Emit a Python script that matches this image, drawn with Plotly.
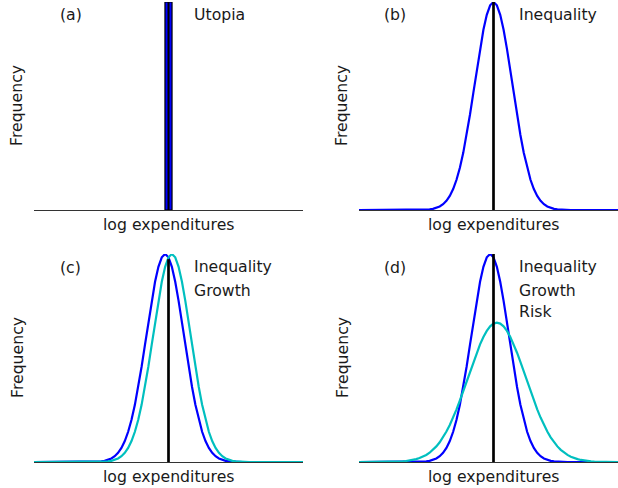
import plotly.graph_objects as go

# ---------------- data ----------------
x_grid = [
    -4.0, -3.9, -3.8, -3.7, -3.6, -3.5, -3.4, -3.3, -3.2, -3.1,
    -3.0, -2.9, -2.8, -2.7, -2.6, -2.5, -2.4, -2.3, -2.2, -2.1,
    -2.0, -1.9, -1.8, -1.7, -1.6, -1.5, -1.4, -1.3, -1.2, -1.1,
    -1.0, -0.9, -0.8, -0.7, -0.6, -0.5, -0.4, -0.3, -0.2, -0.1,
    0.0, 0.1, 0.2, 0.3, 0.4, 0.5, 0.6, 0.7, 0.8, 0.9,
    1.0, 1.1, 1.2, 1.3, 1.4, 1.5, 1.6, 1.7, 1.8, 1.9,
    2.0, 2.1, 2.2, 2.3, 2.4, 2.5, 2.6, 2.7, 2.8, 2.9,
    3.0, 3.1, 3.2, 3.3, 3.4, 3.5, 3.6, 3.7, 3.8, 3.9,
    4.0,
]

# (b) Inequality: blue distribution centred on the mean
blue_b = [
    0, 0, 0, 0, 0, 0, 0, 0, 0, 0,
    0, 0, 0, 0, 0, 0, 0, 0, 0.0004, 0.0009,
    0.0017, 0.0032, 0.0057, 0.0100, 0.0169, 0.0277, 0.0439, 0.0676, 0.1007, 0.1453,
    0.2031, 0.2749, 0.3604, 0.4578, 0.5633, 0.6713, 0.7748, 0.8663, 0.9382, 0.9842,
    1.0, 0.9842, 0.9382, 0.8663, 0.7748, 0.6713, 0.5633, 0.4578, 0.3604, 0.2749,
    0.2031, 0.1453, 0.1007, 0.0676, 0.0439, 0.0277, 0.0169, 0.0100, 0.0057, 0.0032,
    0.0017, 0.0009, 0.0004, 0, 0, 0, 0, 0, 0, 0,
    0, 0, 0, 0, 0, 0, 0, 0, 0, 0,
    0,
]

# (c),(d) blue distribution, slightly left of the mean
blue_cd = [
    0, 0, 0, 0, 0, 0, 0, 0, 0, 0,
    0, 0, 0, 0, 0, 0, 0, 0.0004, 0.0009, 0.0017,
    0.0032, 0.0057, 0.0100, 0.0169, 0.0277, 0.0439, 0.0676, 0.1007, 0.1453, 0.2031,
    0.2749, 0.3604, 0.4578, 0.5633, 0.6713, 0.7748, 0.8663, 0.9382, 0.9842, 1.0,
    0.9842, 0.9382, 0.8663, 0.7748, 0.6713, 0.5633, 0.4578, 0.3604, 0.2749, 0.2031,
    0.1453, 0.1007, 0.0676, 0.0439, 0.0277, 0.0169, 0.0100, 0.0057, 0.0032, 0.0017,
    0.0009, 0.0004, 0, 0, 0, 0, 0, 0, 0, 0,
    0, 0, 0, 0, 0, 0, 0, 0, 0, 0,
    0,
]

# (c) Growth: cyan distribution, slightly right of the mean
cyan_c = [
    0, 0, 0, 0, 0, 0, 0, 0, 0, 0,
    0, 0, 0, 0, 0, 0, 0, 0, 0, 0.0004,
    0.0009, 0.0017, 0.0032, 0.0057, 0.0100, 0.0169, 0.0277, 0.0439, 0.0676, 0.1007,
    0.1453, 0.2031, 0.2749, 0.3604, 0.4578, 0.5633, 0.6713, 0.7748, 0.8663, 0.9382,
    0.9842, 1.0, 0.9842, 0.9382, 0.8663, 0.7748, 0.6713, 0.5633, 0.4578, 0.3604,
    0.2749, 0.2031, 0.1453, 0.1007, 0.0676, 0.0439, 0.0277, 0.0169, 0.0100, 0.0057,
    0.0032, 0.0017, 0.0009, 0.0004, 0, 0, 0, 0, 0, 0,
    0, 0, 0, 0, 0, 0, 0, 0, 0, 0,
    0,
]

# (d) Risk: wider, lower cyan distribution
cyan_d = [
    0, 0, 0, 0, 0, 0, 0.0002, 0.0003, 0.0004, 0.0007,
    0.0010, 0.0015, 0.0023, 0.0033, 0.0049, 0.0070, 0.0098, 0.0137, 0.0188, 0.0254,
    0.0340, 0.0448, 0.0584, 0.0750, 0.0949, 0.1187, 0.1464, 0.1781, 0.2137, 0.2531,
    0.2957, 0.3408, 0.3875, 0.4347, 0.4811, 0.5253, 0.5658, 0.6013, 0.6305, 0.6521,
    0.6655, 0.670, 0.6655, 0.6521, 0.6305, 0.6013, 0.5658, 0.5253, 0.4811, 0.4347,
    0.3875, 0.3408, 0.2957, 0.2531, 0.2137, 0.1781, 0.1464, 0.1187, 0.0949, 0.0750,
    0.0584, 0.0448, 0.0340, 0.0254, 0.0188, 0.0137, 0.0098, 0.0070, 0.0049, 0.0033,
    0.0023, 0.0015, 0.0010, 0.0007, 0.0004, 0.0003, 0.0002, 0, 0, 0,
    0,
]

# (a) Utopia: everyone at the mean
utopia_x = [0.0]
utopia_y = [1.0]

# black mean marker line: x position and height per panel
mean_x = 0.0
mean_heights = {"a": 1.0, "b": 1.0, "c": 0.975, "d": 1.0}

panel_letters = ["(a)", "(b)", "(c)", "(d)"]
panel_labels = [["Utopia"], ["Inequality"], ["Inequality", "Growth"],
                ["Inequality", "Growth", "Risk"]]
x_title = "log expenditures"
y_title = "Frequency"

# ---------------- styling ----------------
W, H = 618, 488
BLUE = "#0000ff"
CYAN = "#00bfbf"
FONT = dict(family="DejaVu Sans", size=15.7, color="#1a1a1a")

def px(x):
    return x / W

def py(y):
    return 1 - y / H

fig = go.Figure()

# panel (a)
fig.add_trace(go.Bar(x=utopia_x, y=utopia_y, width=0.21,
                     marker=dict(color=BLUE, line=dict(color="black", width=1.2)),
                     xaxis="x", yaxis="y"))
fig.add_trace(go.Scatter(x=[mean_x, mean_x], y=[0, mean_heights["a"]], mode="lines",
                         line=dict(color="black", width=2), xaxis="x", yaxis="y"))

# panel (b)
fig.add_trace(go.Scatter(x=x_grid, y=blue_b, mode="lines",
                         line=dict(color=BLUE, width=2.2), xaxis="x2", yaxis="y2"))
fig.add_trace(go.Scatter(x=[mean_x, mean_x], y=[0, mean_heights["b"]], mode="lines",
                         line=dict(color="black", width=2.7), xaxis="x2", yaxis="y2"))

# panel (c)
fig.add_trace(go.Scatter(x=x_grid, y=blue_cd, mode="lines",
                         line=dict(color=BLUE, width=2.2), xaxis="x3", yaxis="y3"))
fig.add_trace(go.Scatter(x=x_grid, y=cyan_c, mode="lines",
                         line=dict(color=CYAN, width=2.2), xaxis="x3", yaxis="y3"))
fig.add_trace(go.Scatter(x=[mean_x, mean_x], y=[0, mean_heights["c"]], mode="lines",
                         line=dict(color="black", width=2.7), xaxis="x3", yaxis="y3"))

# panel (d)
fig.add_trace(go.Scatter(x=x_grid, y=blue_cd, mode="lines",
                         line=dict(color=BLUE, width=2.2), xaxis="x4", yaxis="y4"))
fig.add_trace(go.Scatter(x=x_grid, y=cyan_d, mode="lines",
                         line=dict(color=CYAN, width=2.2), xaxis="x4", yaxis="y4"))
fig.add_trace(go.Scatter(x=[mean_x, mean_x], y=[0, mean_heights["d"]], mode="lines",
                         line=dict(color="black", width=2.7), xaxis="x4", yaxis="y4"))

# axes geometry (pixels)
left_dom = [px(34), px(303)]
right_dom = [px(359), 1.0]
unit_px = (303 - 34) / 8.0
right_max = -4 + (W - 359) / unit_px
top_dom = [py(210), py(2)]
bot_dom = [py(462), py(254)]

xcommon = dict(showgrid=False, zeroline=False, showticklabels=False, ticks="",
               showline=True, linecolor="#333333", linewidth=1.1, layer="below traces",
               fixedrange=True)
ycommon = dict(showgrid=False, zeroline=False, showticklabels=False, ticks="",
               showline=False, range=[0, 1.0], fixedrange=True)

fig.update_layout(
    width=W, height=H, margin=dict(l=0, r=0, t=0, b=0),
    paper_bgcolor="white", plot_bgcolor="white", showlegend=False,
    bargap=0,
    xaxis=dict(domain=left_dom, range=[-4, 4], anchor="y", **xcommon),
    yaxis=dict(domain=top_dom, anchor="x", **ycommon),
    xaxis2=dict(domain=right_dom, range=[-4, right_max], anchor="y2", **xcommon),
    yaxis2=dict(domain=top_dom, anchor="x2", **ycommon),
    xaxis3=dict(domain=left_dom, range=[-4, 4], anchor="y3", **xcommon),
    yaxis3=dict(domain=bot_dom, anchor="x3", **ycommon),
    xaxis4=dict(domain=right_dom, range=[-4, right_max], anchor="y4", **xcommon),
    yaxis4=dict(domain=bot_dom, anchor="x4", **ycommon),
)

annotations = []
panel_left = [34, 359, 34, 359]
panel_top = [2, 2, 254, 254]
panel_base = [210, 210, 462, 462]
label_offsets = [0, 24, 45]
for i in range(4):
    L = panel_left[i]
    T = panel_top[i]
    B = panel_base[i]
    cx = L + 134.5
    annotations.append(dict(text=panel_letters[i], x=px(L + 23.5), y=py(T + 13),
                            xref="paper", yref="paper", xanchor="left", yanchor="middle",
                            showarrow=False, font=FONT))
    for j, lab in enumerate(panel_labels[i]):
        annotations.append(dict(text=lab, x=px(L + 158), y=py(T + 12.5 + label_offsets[j]),
                                xref="paper", yref="paper", xanchor="left", yanchor="middle",
                                showarrow=False, font=FONT))
    annotations.append(dict(text=x_title, x=px(cx), y=py(B + 14.5), xref="paper", yref="paper",
                            xanchor="center", yanchor="middle", showarrow=False, font=FONT))
    annotations.append(dict(text=y_title, x=px(L - 17), y=py((T + B) / 2), xref="paper",
                            yref="paper", xanchor="center", yanchor="middle", textangle=-90,
                            showarrow=False, font=FONT))

fig.update_layout(annotations=annotations)

fig.write_html("out.html", config={"displayModeBar": False, "staticPlot": True},
               post_script="document.body.style.margin='0';document.body.style.overflow='hidden';")
